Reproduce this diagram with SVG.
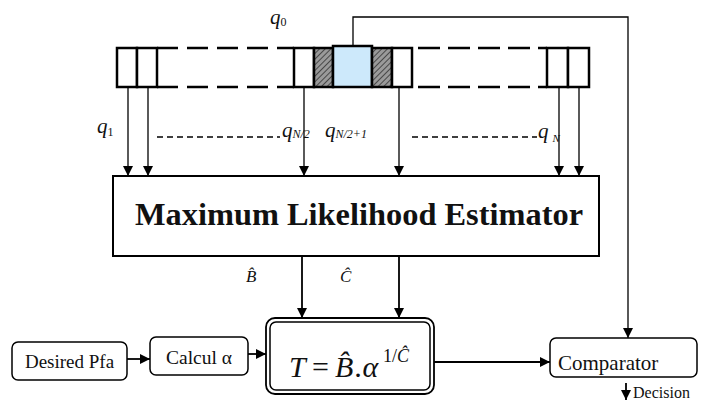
<svg xmlns="http://www.w3.org/2000/svg" width="705" height="403" viewBox="0 0 705 403">
<style>
  .cell{fill:#fff;stroke:#000;stroke-width:2.5}
  .dash{stroke:#000;stroke-width:2.5;stroke-dasharray:21 9;fill:none}
  .sdash{stroke:#000;stroke-width:1.5;stroke-dasharray:6 4;fill:none}
  .wire{stroke:#000;stroke-width:1.3;fill:none}
  .wire2{stroke:#000;stroke-width:1.8;fill:none}
  .box{fill:#fff;stroke:#000;stroke-width:1.5}
  .q{font-family:"Liberation Serif",serif;font-style:italic;fill:#111}
  .t{font-family:"Liberation Serif",serif;fill:#111}
</style>
<defs>
  <pattern id="hatch" width="4" height="4" patternUnits="userSpaceOnUse" patternTransform="rotate(45)">
    <rect width="4" height="4" fill="#9a9a9a"/>
    <line x1="0" y1="0" x2="0" y2="4" stroke="#333" stroke-width="1.6"/>
  </pattern>
  <marker id="arr" viewBox="0 0 10 10" refX="10" refY="5" markerWidth="10" markerHeight="10" markerUnits="userSpaceOnUse" orient="auto">
    <path d="M0,0 L10,5 L0,10 z" fill="#000"/>
  </marker>
</defs>

<g id="register">
  <line class="dash" x1="157" y1="48" x2="294" y2="48"/>
  <line class="dash" x1="157" y1="87" x2="294" y2="87"/>
  <line class="dash" x1="418" y1="48" x2="547" y2="48" style="stroke-dasharray:22 8"/>
  <line class="dash" x1="418" y1="87" x2="547" y2="87" style="stroke-dasharray:22 8"/>
  <rect class="cell" x="117" y="48" width="20" height="39"/>
  <rect class="cell" x="137" y="48" width="20" height="39"/>
  <rect class="cell" x="294" y="48" width="20" height="39"/>
  <rect class="cell" x="314" y="48" width="19" height="39" style="fill:url(#hatch)"/>
  <rect class="cell" x="333" y="46" width="39" height="41" style="fill:#cde9fb"/>
  <rect class="cell" x="372" y="48" width="20" height="39" style="fill:url(#hatch)"/>
  <rect class="cell" x="392" y="48" width="20" height="39"/>
  <rect class="cell" x="547" y="48" width="21" height="39"/>
  <rect class="cell" x="568" y="48" width="21" height="39"/>
</g>

<g id="labels">
  <text class="q" x="270" y="24" font-size="21">q<tspan font-style="normal" font-size="12" dy="2">0</tspan></text>
  <text class="q" x="97" y="133" font-size="21">q<tspan font-style="normal" font-size="12" dy="3">1</tspan></text>
  <text class="q" x="282" y="137" font-size="21">q<tspan font-size="12" dy="1">N/2</tspan></text>
  <text class="q" x="325" y="137" font-size="21">q<tspan font-size="12" dy="1">N/2+1</tspan></text>
  <text class="q" x="538" y="138" font-size="21">q<tspan font-size="11" dx="4" dy="4">N</tspan></text>
  <line class="sdash" x1="157" y1="137" x2="280" y2="137"/>
  <line class="sdash" x1="412" y1="137" x2="537" y2="137"/>
  <text class="q" x="246" y="282" font-size="17">B̂</text>
  <text class="q" x="340" y="282" font-size="17">Ĉ</text>
</g>

<g id="mle">
  <rect x="113" y="176" width="486" height="80" fill="#fff" stroke="#000" stroke-width="2"/>
  <text x="135" y="225" font-family="'Liberation Serif',serif" font-weight="bold" font-size="32" textLength="448" lengthAdjust="spacingAndGlyphs" fill="#111">Maximum Likelihood Estimator</text>
</g>

<g id="desired">
  <rect class="box" x="12" y="342" width="115" height="38" rx="6"/>
  <text class="t" x="69.5" y="368" font-size="19" text-anchor="middle">Desired Pfa</text>
</g>

<g id="calcul">
  <rect class="box" x="150" y="337" width="98" height="38" rx="6"/>
  <text class="t" x="199" y="364" font-size="19.5" text-anchor="middle">Calcul α</text>
</g>

<g id="threshold">
  <rect x="266" y="318" width="168" height="76" rx="9" fill="#fff" stroke="#000" stroke-width="1.8"/>
  <rect x="270" y="322" width="160" height="68" rx="6" fill="none" stroke="#000" stroke-width="1.5"/>
  <text class="q" y="377" font-size="30"><tspan x="289">T</tspan><tspan x="312" font-style="normal">=</tspan><tspan x="335">B̂</tspan><tspan x="355">.α</tspan><tspan x="383" y="362" font-size="18" font-style="normal">1/</tspan><tspan x="397" y="362" font-size="18">Ĉ</tspan></text>
</g>

<g id="comparator">
  <rect class="box" x="550" y="338" width="147" height="39" rx="6"/>
  <text class="t" x="558" y="370" font-size="21">Comparator</text>
</g>

<g id="decision">
  <text class="t" x="633" y="398" font-size="16">Decision</text>
</g>

<g id="connectors">
  <line class="wire" x1="128" y1="87" x2="128" y2="176" marker-end="url(#arr)"/>
  <line class="wire" x1="148" y1="87" x2="148" y2="176" marker-end="url(#arr)"/>
  <line class="wire" x1="304" y1="87" x2="304" y2="176" marker-end="url(#arr)"/>
  <line class="wire" x1="399" y1="87" x2="399" y2="176" marker-end="url(#arr)"/>
  <line class="wire" x1="559" y1="87" x2="559" y2="176" marker-end="url(#arr)"/>
  <line class="wire" x1="579" y1="87" x2="579" y2="176" marker-end="url(#arr)"/>
  <polyline class="wire" points="353,46 353,17 628,17 628,338" marker-end="url(#arr)"/>
  <line class="wire2" x1="302" y1="256" x2="302" y2="318" marker-end="url(#arr)"/>
  <line class="wire2" x1="399" y1="256" x2="399" y2="318" marker-end="url(#arr)"/>
  <line class="wire2" x1="127" y1="359" x2="150" y2="359" marker-end="url(#arr)"/>
  <line class="wire2" x1="248" y1="354" x2="266" y2="354" marker-end="url(#arr)"/>
  <line class="wire2" x1="434" y1="362" x2="550" y2="362" marker-end="url(#arr)"/>
  <line class="wire2" x1="626" y1="383" x2="626" y2="400" marker-end="url(#arr)"/>
</g>
</svg>
